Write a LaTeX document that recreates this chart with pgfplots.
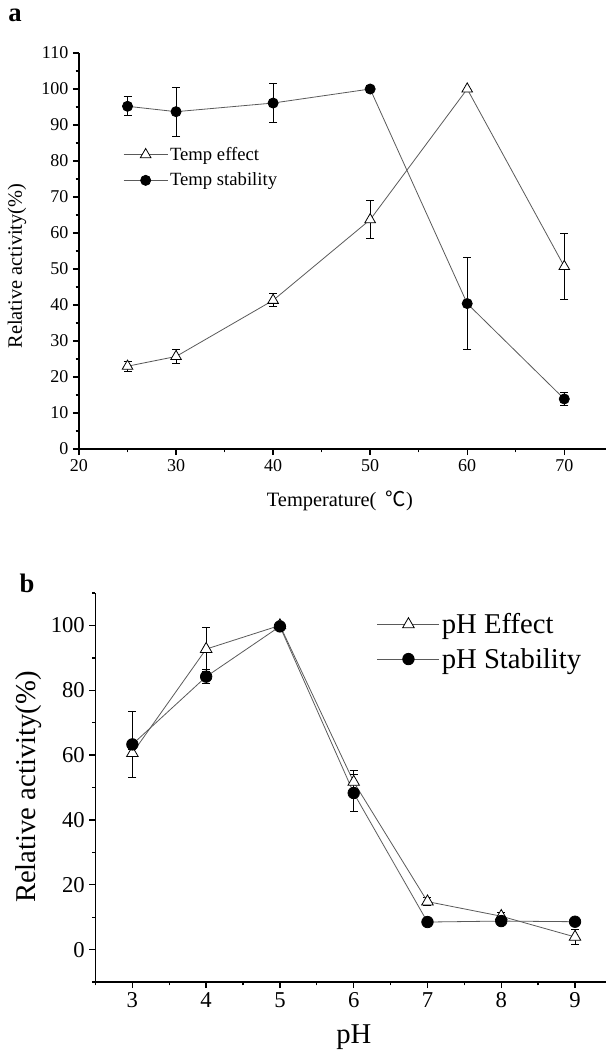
\documentclass[border=0pt]{standalone}
\usepackage{fontspec}
\setmainfont{Liberation Serif}
\newfontfamily\cjk{Noto Sans CJK SC}
\usepackage{pgfplots}
\pgfplotsset{compat=1.18}
\definecolor{linegray}{HTML}{5A5A5A}
\pgfplotsset{
  common/.style={
    scale only axis,
    axis lines*=left,
    axis line style={line width=1.1pt,-},
    tick align=outside,
    major tick length=4.5pt,
    minor tick length=2.5pt,
    every tick/.style={black,line width=1pt},
    clip=false,
    legend cell align=left,
    /pgf/number format/assume math mode=true,
  },
  effect/.style={color=linegray, line width=0.6pt, mark=triangle*, mark options={draw=black, fill=white, line width=0.6pt, solid}},
  stab/.style={color=linegray, line width=0.6pt, mark=*, mark options={draw=black, fill=black, solid}},
  eb/.style={draw=none, mark=none, forget plot, error bars/.cd, y dir=both, y explicit,
    error bar style={draw=black, solid, line width=0.75pt},
    error mark options={draw=black, solid, line width=0.75pt, mark size=3pt, rotate=90}},
}
\begin{document}
\begin{tikzpicture}
\begin{axis}[common,
  at={(59.25pt,-336.75pt)}, anchor=south west,
  width=395.25pt, height=297pt,
  xmin=20, xmax=74.3, ymin=0, ymax=110,
  xtick={20,30,...,70}, minor xtick={25,35,...,65},
  ytick={0,10,...,110}, minor ytick={5,15,...,105},
  tick label style={font=\fontsize{13.5}{15}\selectfont},
  xlabel={Temperature(\hspace{0.45em}{\cjk ℃})},
  ylabel={Relative activity(\%)},
  label style={font=\fontsize{15.3}{17}\selectfont},
  xlabel style={at={(axis description cs:0.495,-0.13)}, anchor=center},
  ylabel style={at={(axis description cs:-0.1176,0.462)}, anchor=center},
  legend style={draw=none, fill=none, at={(axis description cs:0.0835,0.711)}, anchor=west,
    font=\fontsize{14}{15}\selectfont, row sep=5pt, inner sep=0pt, nodes={inner sep=1.5pt}},
  legend image code/.code={\draw[mark repeat=2, mark phase=2] plot coordinates {(0pt,0pt) (16.5pt,0pt) (33pt,0pt)};},
]
\addplot[eb] table[x=x, y=y, y error=e] {
x y e
25 23.0 1.4
30 25.7 1.9
40 41.3 1.8
50 63.7 5.2
70 50.7 9.3
};
\addplot[effect, mark size=4.6pt] table[x=x, y=y] {
x y
25 23.0
30 25.7
40 41.3
50 63.7
60 100
70 50.7
};
\addlegendentry{Temp effect}
\addplot[eb] table[x=x, y=y, y error=e] {
x y e
25 95.2 2.6
30 93.7 6.8
40 96.1 5.5
60 40.4 12.7
70 13.9 1.9
};
\addplot[stab, mark size=3.8pt] table[x=x, y=y] {
x y
25 95.2
30 93.7
40 96.1
50 100
60 40.4
70 13.9
};
\addlegendentry{Temp stability}
\end{axis}

\begin{axis}[common,
  at={(71.625pt,-736.5pt)}, anchor=south west,
  width=382.875pt, height=291.75pt,
  xmin=2.5, xmax=9.42, ymin=-10, ymax=110,
  xtick={3,...,9}, minor xtick={2.5,3.5,...,9.5},
  ytick={0,20,...,100}, minor ytick={-10,10,30,...,110},
  tick label style={font=\fontsize{17}{19}\selectfont},
  xlabel={pH},
  ylabel={Relative activity(\%)},
  label style={font=\fontsize{21.5}{24}\selectfont},
  xlabel style={at={(axis description cs:0.506,-0.141)}, anchor=center},
  ylabel style={at={(axis description cs:-0.130,0.501)}, anchor=center},
  legend style={draw=none, fill=none, at={(axis description cs:0.551,0.875)}, anchor=west,
    font=\fontsize{21.5}{24}\selectfont, row sep=6.5pt, inner sep=0pt, nodes={inner sep=1.5pt}},
  legend image code/.code={\draw[mark repeat=2, mark phase=2] plot coordinates {(0pt,0pt) (23.25pt,0pt) (46.5pt,0pt)};},
]
\addplot[eb] table[x=x, y=y, y error=e] {
x y e
3 60.6 1.0
4 92.7 6.8
6 51.7 3.4
7 14.8 1.2
8 10.3 1.0
9 3.9 2.2
};
\addplot[effect, mark size=5pt] table[x=x, y=y] {
x y
3 60.6
4 92.7
5 100
6 51.7
7 14.8
8 10.3
9 3.9
};
\addlegendentry{pH Effect}
\addplot[eb] table[x=x, y=y, y error=e] {
x y e
3 63.3 10.3
4 84.2 2.1
6 48.3 5.8
7 8.5 0.5
8 8.8 0.5
9 8.6 0.5
};
\addplot[stab, mark size=4.3pt] table[x=x, y=y] {
x y
3 63.3
4 84.2
5 99.7
6 48.3
7 8.5
8 8.8
9 8.6
};
\addlegendentry{pH Stability}
\end{axis}

\node[font=\bfseries\fontsize{20}{22}\selectfont] at (11.25pt,-11.25pt) {a};
\node[font=\bfseries\fontsize{20}{22}\selectfont] at (20.25pt,-437.25pt) {b};

\pgfresetboundingbox
\path[use as bounding box] (0,0) rectangle (454.5pt,-789.75pt);
\end{tikzpicture}
\end{document}
